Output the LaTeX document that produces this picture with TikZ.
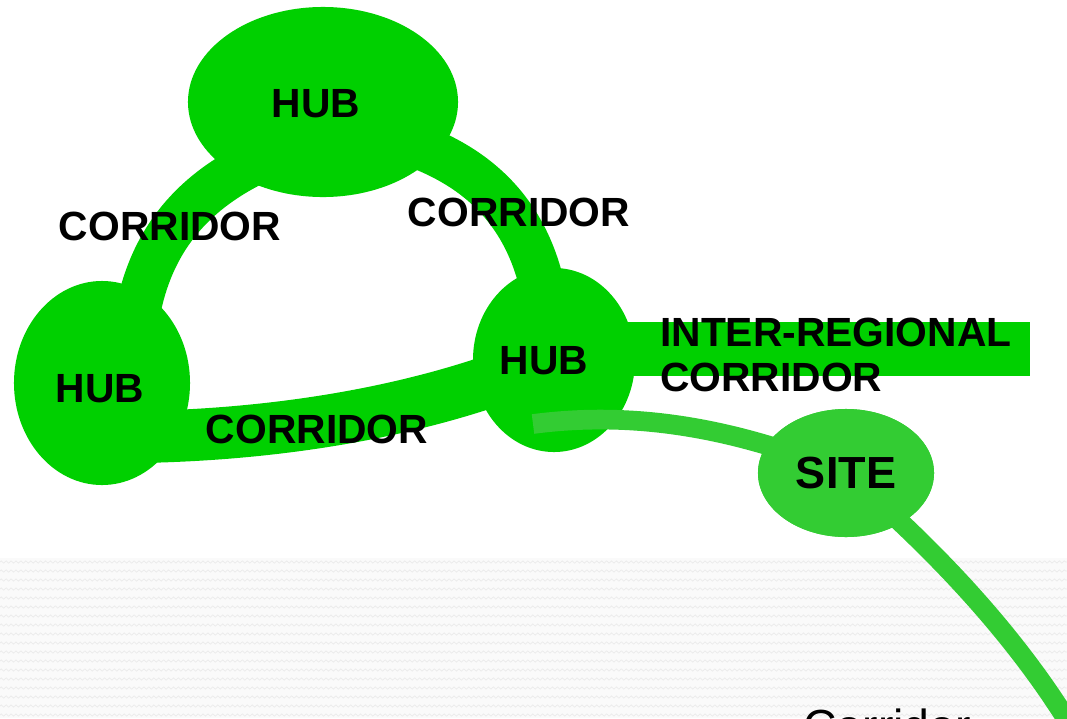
\documentclass[tikz,border=0pt]{standalone}
\usepackage{fontspec}
\setmainfont{Liberation Sans}
\usetikzlibrary{shapes.geometric, decorations.pathmorphing}
\definecolor{hubgreen}{RGB}{0,208,0}
\definecolor{sitegreen}{RGB}{51,204,51}
\tikzset{
  hub/.style={ellipse, fill=hubgreen, inner sep=0pt,
    font=\bfseries\fontsize{29}{32}\selectfont},
  site/.style={ellipse, fill=sitegreen, inner sep=0pt,
    minimum width=4.4cm, minimum height=3.2cm,
    font=\bfseries\fontsize{32}{34}\selectfont},
  corridor/.style={draw=hubgreen, line width=32pt},
  link/.style={draw=sitegreen, line width=14pt},
  tag/.style={inner sep=0pt, align=left,
    font=\bfseries\fontsize{29}{32}\selectfont},
  wave/.style={draw=black!8, line width=0.5pt, decorate,
    decoration={zigzag, segment length=3.5pt, amplitude=0.8pt}}
}

\begin{document}
\begin{tikzpicture}[x=0.025cm, y=-0.025cm]
\useasboundingbox (0,0) rectangle (1067,718);
\clip (0,0) rectangle (1067,718);

%% Patterned strip at the bottom
\fill[black!2] (0,558) rectangle (1067,718);
\foreach \y in {562,571,...,718}
  \draw[wave] (0,\y) -- (1067,\y);

%% Hub anchors for the corridors
\coordinate (lefttop)   at (135,330);
\coordinate (toplow)    at (260,160);
\coordinate (topright)  at (400,140);
\coordinate (righttop)  at (545,300);
\coordinate (leftlow)   at (140,437);
\coordinate (rightlow)  at (500,378);

%% Corridors between the hubs
\draw[corridor] (lefttop) .. controls (145,250) and (185,195) .. (toplow);
\draw[corridor] (topright) .. controls (480,165) and (530,215) .. (righttop);
\draw[corridor, line width=37pt] (leftlow) .. controls (250,435) and (380,420) .. (rightlow);

%% Inter-regional corridor
\fill[hubgreen] (600,322) rectangle (1030,376);

%% Hubs
\node[hub, minimum width=6.75cm, minimum height=4.75cm] (hubtop)   at (323,102) {};
\node[hub, minimum width=4.4cm,  minimum height=5.1cm]  (hubleft)  at (102,383) {};
\node[hub, minimum width=4.05cm, minimum height=4.6cm]  (hubright) at (554,360) {};

%% Site link
\coordinate (linkstart) at (533,424);
\coordinate (linkend)   at (1072,728);
\node[site] (site) at (846,473) {};
\draw[link] (linkstart) .. controls (640,410) and (740,430) .. (site.center);
\draw[link] (site.center) .. controls (900,520) and (1000,610) .. (linkend);
\node[site] at (site.center) {SITE};

%% Labels
\node[tag] at (316,104) {HUB};
\node[tag] at (100,389) {HUB};
\node[tag] at (544,361) {HUB};
\node[tag] (cleft)   at (170,226) {CORRIDOR};
\node[tag] (cright)  at (519,212) {CORRIDOR};
\node[tag] (cbottom) at (317,429) {CORRIDOR};
\node[tag, anchor=north west] (cinter) at (660,318) {INTER-REGIONAL\\CORRIDOR};
\node[anchor=base west, inner sep=0pt, font=\fontsize{33}{36}\selectfont]
  (caption) at (803,742) {Corridor};

\end{tikzpicture}
\end{document}
